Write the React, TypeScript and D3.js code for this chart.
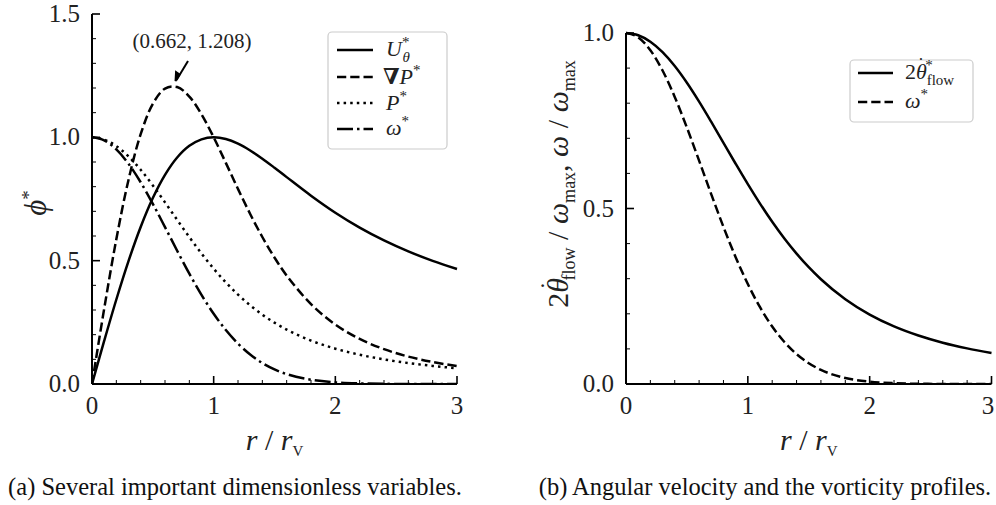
import React from "react";
import * as d3 from "d3";

// radial coordinate r / r_V
const R = [0, 0.1, 0.2, 0.3, 0.4, 0.5, 0.6, 0.7, 0.8, 0.9, 1.0, 1.1, 1.2, 1.3, 1.4, 1.5, 1.6, 1.8, 2.0, 2.2, 2.4, 2.6, 2.8, 3.0];
// (a) dimensionless variables
const U_THETA = [0, 0.1745, 0.3426, 0.4982, 0.6365, 0.7537, 0.8477, 0.9181, 0.9655, 0.9919, 1.0, 0.993, 0.9742, 0.9467, 0.9135, 0.8768, 0.8387, 0.7634, 0.6944, 0.634, 0.5821, 0.5376, 0.4992, 0.466];
const GRAD_P = [0, 0.3046, 0.5869, 0.8274, 1.0127, 1.136, 1.1977, 1.2041, 1.1652, 1.0932, 1.0, 0.8964, 0.7908, 0.6894, 0.596, 0.5125, 0.4396, 0.3238, 0.2411, 0.1827, 0.1412, 0.1111, 0.089, 0.0724];
const P_STAR = [1.0, 0.9909, 0.9646, 0.9228, 0.8685, 0.8051, 0.7362, 0.6654, 0.5956, 0.5291, 0.4675, 0.4118, 0.3622, 0.3188, 0.2811, 0.2486, 0.2206, 0.1761, 0.1432, 0.1186, 0.0997, 0.0849, 0.0732, 0.0638];
const OMEGA = [1.0, 0.9875, 0.951, 0.8931, 0.8179, 0.7304, 0.6362, 0.5403, 0.4475, 0.3614, 0.2847, 0.2187, 0.1638, 0.1196, 0.0852, 0.0592, 0.0401, 0.0171, 0.0066, 0.0023, 0.0007, 0.0002, 0.0001, 0.0];
// (b) angular velocity
const THETA_DOT = [1.0, 0.9937, 0.9753, 0.9455, 0.9059, 0.8582, 0.8044, 0.7467, 0.6871, 0.6275, 0.5693, 0.514, 0.4622, 0.4146, 0.3715, 0.3328, 0.2984, 0.2415, 0.1977, 0.1641, 0.1381, 0.1177, 0.1015, 0.0884];

const X_TICKS = [0, 1, 2, 3];
const Y_TICKS_A = [0, 0.5, 1.0, 1.5];
const Y_TICKS_B = [0, 0.5, 1.0];
const PEAK = { r: 0.662, v: 1.208 };

const FONT = "Liberation Serif, DejaVu Serif, Times New Roman, serif";
const DASH = "9.25,4";
const DOT = "2.5,4.1";
const DASHDOT = "16,4,2.5,4";

type Series = { vals: number[]; dash?: string; curve: any };

function Panel({ x0, x1, yTop, yBot, yMax, yTicks, series }: any) {
  const xs = d3.scaleLinear().domain([0, 3]).range([x0, x1]);
  const ys = d3.scaleLinear().domain([0, yMax]).range([yBot, yTop]);
  const xMinor = d3.range(0, 3.0001, 0.2).filter((v) => Math.abs(v - Math.round(v)) > 1e-6);
  const yMinor = d3.range(0, yMax + 0.0001, 0.1).filter((v) => Math.abs(v * 2 - Math.round(v * 2)) > 1e-6);
  return (
    <g>
      <defs>
        <clipPath id={`clip${x0}`}>
          <rect x={x0} y={yTop - 2} width={x1 - x0 + 2} height={yBot - yTop + 2} />
        </clipPath>
      </defs>
      <g clipPath={`url(#clip${x0})`}>
        {series.map((s: Series, i: number) => {
          const line = d3
            .line<number>()
            .x((_, j) => xs(R[j]))
            .y((d) => ys(d))
            .curve(s.curve);
          return (
            <path key={i} d={line(s.vals) || ""} fill="none" stroke="#000" strokeWidth={2.5} strokeDasharray={s.dash} />
          );
        })}
      </g>
      {/* spines */}
      <line x1={x0} x2={x1} y1={yBot} y2={yBot} stroke="#000" strokeWidth={2} />
      <line x1={x0} x2={x0} y1={yTop} y2={yBot} stroke="#000" strokeWidth={2} />
      {/* x ticks */}
      {X_TICKS.map((t) => (
        <g key={"xt" + t}>
          <line x1={xs(t)} x2={xs(t)} y1={yBot} y2={yBot - 8} stroke="#000" strokeWidth={1.6} />
          <text x={Math.min(xs(t), 988)} y={yBot + 30} textAnchor="middle" fontSize={25} fontFamily={FONT} fill="#222">
            {t}
          </text>
        </g>
      ))}
      {xMinor.map((t) => (
        <line key={"xm" + t} x1={xs(t)} x2={xs(t)} y1={yBot} y2={yBot - 4} stroke="#000" strokeWidth={1} />
      ))}
      {yTicks.map((t: number) => (
        <g key={"yt" + t}>
          <line x1={x0} x2={x0 + 8} y1={ys(t)} y2={ys(t)} stroke="#000" strokeWidth={1.6} />
          <text x={x0 - 12} y={ys(t) + 8} textAnchor="end" fontSize={25} fontFamily={FONT} fill="#222">
            {t.toFixed(1)}
          </text>
        </g>
      ))}
      {yMinor.map((t: number) => (
        <line key={"ym" + t} x1={x0} x2={x0 + 4} y1={ys(t)} y2={ys(t)} stroke="#000" strokeWidth={1} />
      ))}
      {/* x label */}
      <text x={(x0 + x1) / 2} y={yBot + 66} textAnchor="middle" fontSize={30} fontFamily={FONT} fill="#222">
        <tspan fontStyle="italic">r</tspan>
        <tspan> / </tspan>
        <tspan fontStyle="italic">r</tspan>
        <tspan fontSize={15} dy={6}>V</tspan>
      </text>
    </g>
  );
}

export default function App() {
  const xa = d3.scaleLinear().domain([0, 3]).range([92, 457]);
  const ya = d3.scaleLinear().domain([0, 1.5]).range([384, 14]);
  const px = xa(PEAK.r);
  const py = ya(PEAK.v);
  return (
    <svg width={996} height={505} style={{ position: "absolute", left: 0, top: 0, background: "#fff" }} fontFamily={FONT}>
      <rect width={996} height={505} fill="#fff" />
      <Panel
        x0={92}
        x1={457}
        yTop={14}
        yBot={384}
        yMax={1.5}
        yTicks={Y_TICKS_A}
        series={[
          { vals: U_THETA, curve: d3.curveCatmullRom },
          { vals: GRAD_P, dash: DASH, curve: d3.curveCatmullRom },
          { vals: P_STAR, dash: DOT, curve: d3.curveMonotoneX },
          { vals: OMEGA, dash: DASHDOT, curve: d3.curveMonotoneX },
        ]}
      />
      <Panel
        x0={626}
        x1={991.5}
        yTop={33}
        yBot={384}
        yMax={1.0}
        yTicks={Y_TICKS_B}
        series={[
          { vals: THETA_DOT, curve: d3.curveMonotoneX },
          { vals: OMEGA, dash: DASH, curve: d3.curveMonotoneX },
        ]}
      />
      {/* annotation */}
      <text x={192} y={48} textAnchor="middle" fontSize={21} fontFamily={FONT} fill="#222">
        ({PEAK.r.toFixed(3)}, {PEAK.v.toFixed(3)})
      </text>
      <line x1={188} y1={61} x2={px + 4} y2={py - 6} stroke="#000" strokeWidth={2} />
      <path
        d={`M${px + 3},${py - 5} l0.5,-9 l3.5,2.5 z`}
        fill="#000"
        stroke="#000"
        strokeWidth={2}
        strokeLinejoin="miter"
      />
      {/* y labels */}
      <text transform="translate(46,203) rotate(-90)" textAnchor="middle" fontSize={31} fontFamily={FONT} fill="#222">
        <tspan fontStyle="italic">ϕ</tspan>
        <tspan fontSize={19} dy={-11}>*</tspan>
      </text>
      <text transform="translate(568,184) rotate(-90)" textAnchor="middle" fontSize={30} fontFamily={FONT} fill="#222">
        <tspan>2</tspan>
        <tspan fontStyle="italic">θ</tspan>
        <tspan dx={-12} dy={-10} fontSize={26}>˙</tspan>
        <tspan fontSize={18} dx={1} dy={17}>flow</tspan>
        <tspan dy={-7}> / </tspan>
        <tspan fontStyle="italic">ω</tspan>
        <tspan fontSize={18} dy={7}>max</tspan>
        <tspan dy={-7}>, </tspan>
        <tspan fontStyle="italic">ω</tspan>
        <tspan> / </tspan>
        <tspan fontStyle="italic">ω</tspan>
        <tspan fontSize={18} dy={7}>max</tspan>
      </text>
      {/* legend a */}
      <rect x={328} y={32} width={119} height={117} rx={4} fill="#fff" fillOpacity={0.8} stroke="#ccc" strokeWidth={1.2} />
      {[
        { y: 50, dash: undefined },
        { y: 77, dash: DASH },
        { y: 103, dash: DOT },
        { y: 129, dash: DASHDOT },
      ].map((e, i) => (
        <line key={i} x1={337} x2={373} y1={e.y} y2={e.y} stroke="#000" strokeWidth={2.5} strokeDasharray={e.dash} />
      ))}
      <g fontFamily={FONT} fontSize={22} fill="#222">
        <text x={386} y={56}>
          <tspan fontStyle="italic">U</tspan>
          <tspan fontSize={15} dy={-9}>*</tspan>
          <tspan fontSize={15} fontStyle="italic" dx={-7} dy={15}>θ</tspan>
        </text>
        <text x={383} y={84}>
          <tspan fontWeight="bold">∇</tspan>
          <tspan fontStyle="italic">P</tspan>
          <tspan fontSize={15} dy={-9}>*</tspan>
        </text>
        <text x={386} y={110}>
          <tspan fontStyle="italic">P</tspan>
          <tspan fontSize={15} dy={-9}>*</tspan>
        </text>
        <text x={386} y={135}>
          <tspan fontStyle="italic">ω</tspan>
          <tspan fontSize={15} dy={-9}>*</tspan>
        </text>
      </g>
      {/* legend b */}
      <rect x={850} y={60} width={123} height={62} rx={4} fill="#fff" fillOpacity={0.8} stroke="#ccc" strokeWidth={1.2} />
      <line x1={858} x2={893} y1={73} y2={73} stroke="#000" strokeWidth={2.5} />
      <line x1={858} x2={893} y1={102} y2={102} stroke="#000" strokeWidth={2.5} strokeDasharray={DASH} />
      <g fontFamily={FONT} fontSize={22} fill="#222">
        <text x={905} y={79}>
          <tspan>2</tspan>
          <tspan fontStyle="italic">θ</tspan>
          <tspan dx={-9} dy={-8} fontSize={19}>˙</tspan>
          <tspan fontSize={15} dx={1} dy={-1}>*</tspan>
          <tspan fontSize={15} dx={-6} dy={15}>flow</tspan>
        </text>
        <text x={905} y={108}>
          <tspan fontStyle="italic">ω</tspan>
          <tspan fontSize={15} dy={-9}>*</tspan>
        </text>
      </g>
      {/* captions */}
      <text x={235} y={495} textAnchor="middle" fontSize={24.5} fontFamily={FONT} fill="#111">
        (a) Several important dimensionless variables.
      </text>
      <text x={765} y={495} textAnchor="middle" fontSize={24.5} fontFamily={FONT} fill="#111">
        (b) Angular velocity and the vorticity profiles.
      </text>
    </svg>
  );
}
